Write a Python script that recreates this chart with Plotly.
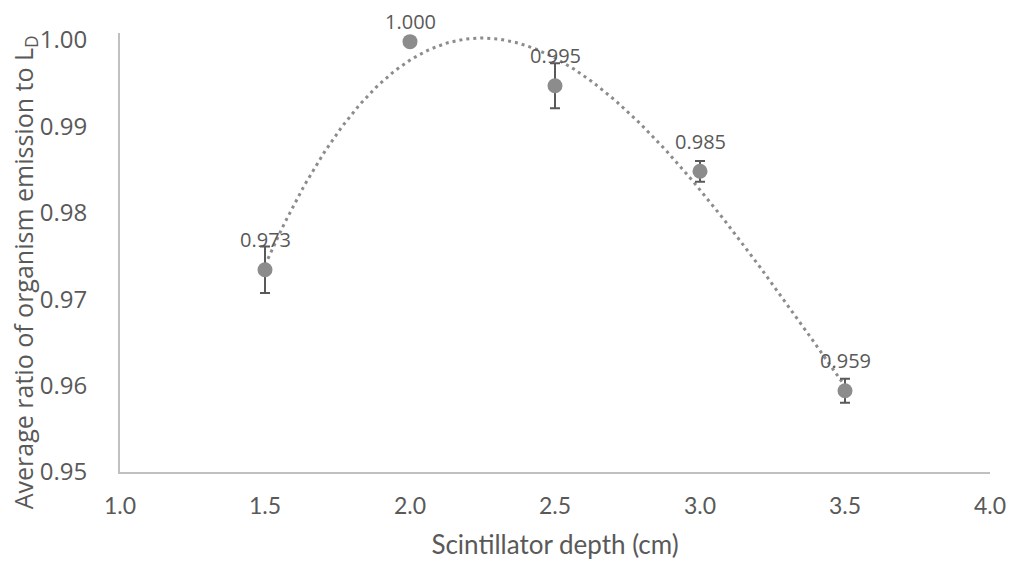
import numpy as np
import plotly.graph_objects as go

# Scintillator depth (cm) and mean emission ratio with standard error
depth = [1.5, 2.0, 2.5, 3.0, 3.5]
ratio = [0.9734, 0.9998, 0.9947, 0.9848, 0.9594]
err = [0.0027, 0.0, 0.0026, 0.0012, 0.0014]

x_ticks = [1.0, 1.5, 2.0, 2.5, 3.0, 3.5, 4.0]
y_ticks = [0.95, 0.96, 0.97, 0.98, 0.99, 1.00]

# polynomial trendline fitted to the means
coef = np.polyfit(depth, ratio, 3)
xs = np.linspace(depth[0], depth[-1], 200)
ys = np.polyval(coef, xs)

GREY_MARK = "#8c8c8c"
TEXT = "#595959"
AXIS = "#c0c0c0"
SANS = "Open Sans"
NARROW = "Lato"

fig = go.Figure()
fig.add_trace(go.Scatter(
    x=xs, y=ys, mode="lines",
    line=dict(color=GREY_MARK, width=3, dash="3px,4px"),
    hoverinfo="skip", showlegend=False,
))
fig.add_trace(go.Scatter(
    x=depth, y=ratio, mode="markers",
    marker=dict(color=GREY_MARK, size=15),
    error_y=dict(type="data", array=err, visible=True,
                 color="#595959", thickness=2, width=5),
    showlegend=False,
))

y_top = 1.0008
for xv, yv in zip(depth, ratio):
    # labels sit above each point, pulled down where they would leave the chart
    shift = 30 if yv < 0.999 else 20
    fig.add_annotation(
        x=xv, y=yv, text=f"{yv:.3f}", showarrow=False,
        yshift=shift, font=dict(family=SANS, size=20, color=TEXT),
    )

# vertical axis title, centred on the chart height
fig.add_annotation(
    text="Average ratio of organism emission to L<sub>D</sub>",
    xref="paper", yref="paper", x=0, y=0.455, xanchor="center", yanchor="middle",
    xshift=-96, textangle=-90, showarrow=False,
    font=dict(family=SANS, size=25, color=TEXT),
)

fig.update_layout(
    template="none",
    width=1014, height=569,
    margin=dict(l=120, r=24, t=33, b=97),
    paper_bgcolor="white", plot_bgcolor="white",
    font=dict(family=SANS, color=TEXT),
)
fig.update_xaxes(
    range=[1.0, 4.0], tickvals=x_ticks,
    ticktext=[f"{v:.1f}" for v in x_ticks],
    showgrid=False, zeroline=False, automargin=False,
    showline=True, linecolor=AXIS, linewidth=2,
    ticks="", ticklabelstandoff=12,
    tickfont=dict(family=NARROW, size=23, color=TEXT),
    title=dict(text="Scintillator depth (cm)", standoff=18,
               font=dict(family=NARROW, size=26, color=TEXT)),
)
fig.update_yaxes(
    range=[0.95, y_top], tickvals=y_ticks,
    ticktext=[f"{v:.2f}" for v in y_ticks],
    showgrid=False, zeroline=False, automargin=False,
    showline=True, linecolor=AXIS, linewidth=2,
    ticks="", ticklabelstandoff=26,
    tickfont=dict(family=SANS, size=24, color=TEXT),
)

fig.write_html("out.html")
